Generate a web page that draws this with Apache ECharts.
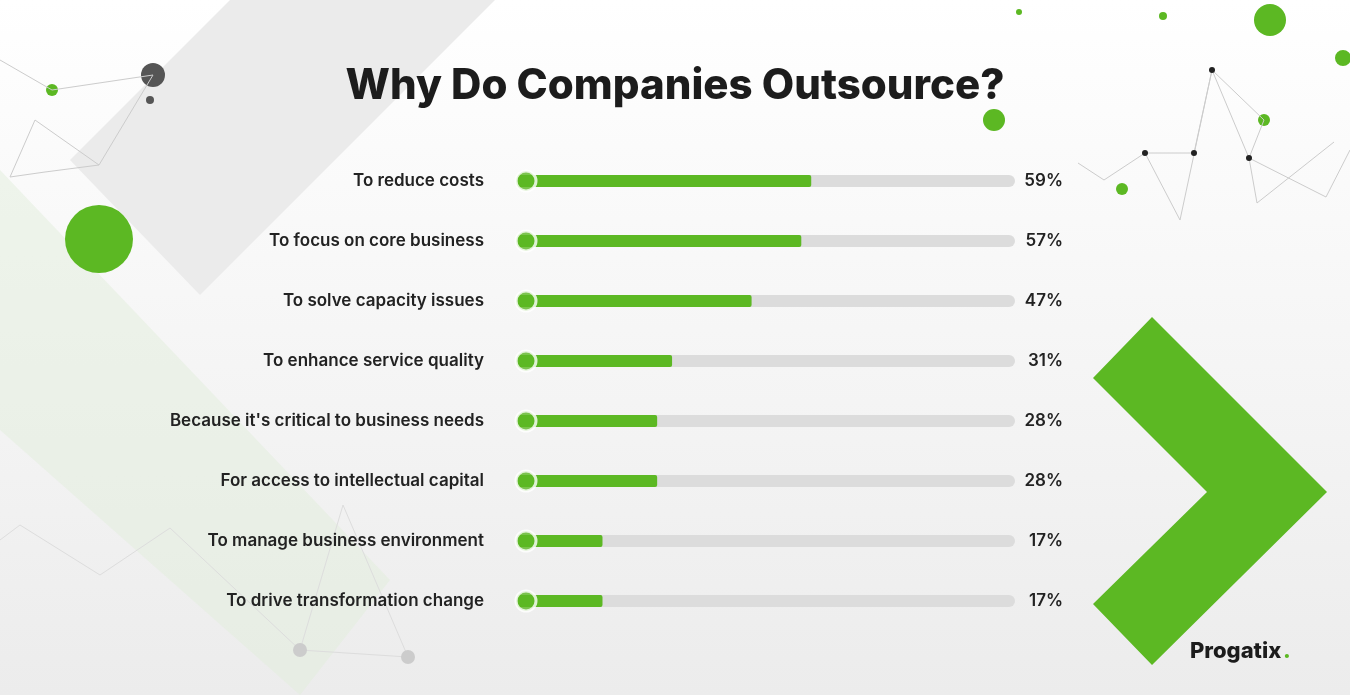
<!DOCTYPE html>
<html><head><meta charset="utf-8">
<script src="https://cdn.jsdelivr.net/npm/echarts@6/dist/echarts.min.js"></script>
<style>html,body{margin:0;padding:0;}#c{width:1350px;height:695px;}</style>
</head><body><div id="c"></div>
<script>
var categories = ['To reduce costs', 'To focus on core business', 'To solve capacity issues', 'To enhance service quality',
    "Because it's critical to business needs", 'For access to intellectual capital', 'To manage business environment', 'To drive transformation change'];
var values = [59, 57, 47, 31, 28, 28, 17, 17];
var pctLabels = values.map(function (v) { return v + '%'; });

var green = '#5cb823';
var chart = echarts.init(document.getElementById('c'));
var fontFamily = 'Inter, "Open Sans", sans-serif';

var option = {
    backgroundColor: new echarts.graphic.LinearGradient(0, 0, 0, 1, [
        {offset: 0, color: '#ffffff'}, {offset: 1, color: '#ececec'}]),
    title: {
        text: 'Why Do Companies Outsource?',
        left: 'center', top: 60,
        textStyle: {fontFamily: fontFamily, fontSize: 42, fontWeight: 800, color: '#1c1c1c'}
    },
    graphic: [
        {type: 'polygon', z: -1, shape: {points: [[70, 160], [200, 295], [495, 0], [230, 0]]}, style: {fill: '#ebebeb'}},
        {type: 'polygon', z: -1, shape: {points: [[0, 170], [0, 430], [300, 695], [390, 580]]}, style: {fill: 'rgba(225,238,220,0.5)'}},
        {type: 'circle', shape: {cx: 99, cy: 239, r: 34}, style: {fill: green}},
        {type: 'circle', shape: {cx: 1270, cy: 20, r: 16}, style: {fill: green}},
        {type: 'circle', shape: {cx: 994, cy: 120, r: 11}, style: {fill: green}},
        {type: 'circle', shape: {cx: 1343, cy: 58, r: 8}, style: {fill: green}},
        {type: 'circle', shape: {cx: 1163, cy: 16, r: 4}, style: {fill: green}},
        {type: 'circle', shape: {cx: 1019, cy: 12, r: 3}, style: {fill: green}},
        {type: 'circle', shape: {cx: 1122, cy: 189, r: 6}, style: {fill: green}},
        {type: 'circle', shape: {cx: 1264, cy: 120, r: 6}, style: {fill: green}},
        {type: 'circle', shape: {cx: 52, cy: 90, r: 6}, style: {fill: green}},
        {type: 'circle', shape: {cx: 153, cy: 75, r: 12}, style: {fill: '#555'}},
        {type: 'circle', shape: {cx: 150, cy: 100, r: 4}, style: {fill: '#555'}},
        {type: 'polyline', shape: {points: [[0, 60], [52, 90], [153, 75], [99, 165], [35, 120], [10, 177], [45, 172], [99, 165]]}, style: {stroke: '#ccc', fill: null}},
        {type: 'polyline', shape: {points: [[1078, 163], [1104, 180], [1145, 153], [1194, 153], [1212, 70], [1264, 120], [1249, 158], [1326, 197], [1350, 150]]}, style: {stroke: '#ccc', fill: null}},
        {type: 'polyline', shape: {points: [[1145, 153], [1180, 220], [1212, 70], [1249, 158], [1257, 203], [1334, 142]]}, style: {stroke: '#ccc', fill: null}},
        {type: 'polyline', shape: {points: [[0, 540], [20, 525], [100, 575], [170, 528], [300, 650], [408, 657], [343, 505], [300, 650]]}, style: {stroke: '#ddd', fill: null}},
        {type: 'circle', shape: {cx: 300, cy: 650, r: 7}, style: {fill: '#ccc'}},
        {type: 'circle', shape: {cx: 408, cy: 657, r: 7}, style: {fill: '#ccc'}},
        {type: 'circle', shape: {cx: 1212, cy: 70, r: 3}, style: {fill: '#222'}},
        {type: 'circle', shape: {cx: 1194, cy: 153, r: 3}, style: {fill: '#222'}},
        {type: 'circle', shape: {cx: 1145, cy: 153, r: 3}, style: {fill: '#222'}},
        {type: 'circle', shape: {cx: 1249, cy: 158, r: 3}, style: {fill: '#222'}},
        {type: 'polygon', shape: {points: [[1093, 378], [1152, 317], [1327, 492], [1152, 665], [1093, 604], [1207, 492]]}, style: {fill: green}},
        {type: 'text', left: 1190, top: 640, style: {text: 'Progatix', fontFamily: fontFamily, fontSize: 22, fontWeight: 800, fill: '#1c1c1c'}},
        {type: 'text', left: 1283, top: 640, style: {text: '.', fontFamily: fontFamily, fontSize: 22, fontWeight: 800, fill: green}}
    ],
    grid: {left: 518, right: 335, top: 151, bottom: 64},
    xAxis: {type: 'value', min: 0, max: 100, show: false},
    yAxis: [{
        type: 'category', data: categories, inverse: true,
        axisLine: {show: false}, axisTick: {show: false},
        axisLabel: {margin: 34, fontFamily: fontFamily, fontSize: 17, fontWeight: 600, color: '#222'}
    }, {
        type: 'category', data: pctLabels, inverse: true, position: 'right',
        axisLine: {show: false}, axisTick: {show: false},
        axisLabel: {margin: 48, align: 'right', fontFamily: fontFamily, fontSize: 17, fontWeight: 600, color: '#222'}
    }],
    series: [{
        type: 'bar', data: values.map(function () { return 100; }), barWidth: 12, silent: true,
        itemStyle: {color: '#dcdcdc', borderRadius: 6}, barGap: '-100%', z: 1
    }, {
        type: 'bar', data: values, barWidth: 12,
        itemStyle: {color: green, borderRadius: [0, 2, 2, 0]}, z: 2
    }, {
        type: 'scatter', data: values.map(function () { return 0; }),
        symbolSize: 20, symbolOffset: [8, 0], z: 3,
        itemStyle: {color: green, borderColor: '#fff', borderWidth: 3}
    }]
};
chart.setOption(option);
</script>
</body></html>
